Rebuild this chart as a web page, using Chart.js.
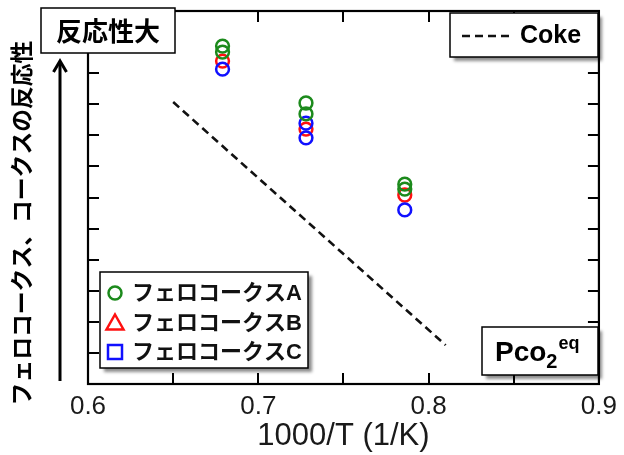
<!DOCTYPE html>
<html>
<head>
<meta charset="utf-8">
<script src="https://cdn.jsdelivr.net/npm/chart.js@4/dist/chart.umd.min.js"></script>
<style>
  html, body { margin: 0; padding: 0; background: #fff; }
  #wrap { width: 624px; height: 455px; position: relative; }
</style>
</head>
<body>
<div id="wrap"><canvas id="c" width="624" height="455"></canvas></div>
<script>
// 1000/T axis ticks
const xTickValues = [0.6, 0.7, 0.8, 0.9];
const xMinorTicks = [0.65, 0.75, 0.85];
// reactivity axis (arbitrary units, unlabelled ticks)
const yTickValues = [0, 1, 2, 3, 4, 5, 6, 7, 8, 9, 10, 11, 12];

// Ferro-coke A
const ferroA_x = [0.679, 0.679, 0.728, 0.728, 0.786, 0.786];
const ferroA_y = [10.87, 10.68, 9.04, 8.69, 6.43, 6.27];
// Ferro-coke B
const ferroB_x = [0.679, 0.728, 0.786];
const ferroB_y = [10.39, 8.20, 6.08];
// Ferro-coke C
const ferroC_x = [0.679, 0.728, 0.728, 0.786];
const ferroC_y = [10.13, 8.39, 7.92, 5.60];
// Coke (equilibrium CO2 pressure line)
const coke_x = [0.65, 0.81];
const coke_y = [9.07, 1.25];

const seriesLabels = ['フェロコークスA', 'フェロコークスB', 'フェロコークスC'];
const cokeLabel = 'Coke';

const GREEN = '#1c8a1c', RED = '#ff1010', BLUE = '#1010ff';
const LATIN = '"Liberation Sans", Arial, sans-serif';
const JP = '"Liberation Sans", "Noto Sans CJK JP", sans-serif';

const pts = (xs, ys) => xs.map((x, i) => ({ x, y: ys[i] }));

function markerSet(label, xs, ys, color, order, legendMarker) {
  return {
    label, data: pts(xs, ys), order, legendMarker,
    showLine: false, pointStyle: 'circle', pointRadius: 6.4,
    pointBorderWidth: 2.5, pointBorderColor: color,
    pointBackgroundColor: 'rgba(0,0,0,0)', borderColor: color
  };
}

function line(ctx, x1, y1, x2, y2) {
  ctx.beginPath(); ctx.moveTo(x1, y1); ctx.lineTo(x2, y2); ctx.stroke();
}

function shadowBox(ctx, x, y, w, h, shadow) {
  ctx.save();
  if (shadow) {
    ctx.shadowColor = 'rgba(0,0,0,0.45)';
    ctx.shadowOffsetX = 4; ctx.shadowOffsetY = 4; ctx.shadowBlur = 3;
  }
  ctx.fillStyle = '#fff';
  ctx.fillRect(x, y, w, h);
  ctx.restore();
  ctx.save();
  ctx.lineWidth = 1.5; ctx.strokeStyle = '#000';
  ctx.strokeRect(x, y, w, h);
  ctx.restore();
}

// frame, inward ticks on all four sides, annotation boxes and axis caption
const decorations = {
  id: 'decorations',
  afterDraw(chart) {
    const ctx = chart.ctx;
    const { left, right, top, bottom } = chart.chartArea;
    const xs = chart.scales.x, ys = chart.scales.y;
    ctx.save();
    ctx.strokeStyle = '#000';
    ctx.lineWidth = 2.2;
    ctx.strokeRect(left, top, right - left, bottom - top);
    ctx.lineWidth = 2;
    const len = 11;
    [...xTickValues, ...xMinorTicks].forEach(v => {
      const px = Math.round(xs.getPixelForValue(v));
      line(ctx, px, bottom, px, bottom - len);
      line(ctx, px, top, px, top + len);
    });
    yTickValues.forEach(v => {
      const py = Math.round(ys.getPixelForValue(v));
      line(ctx, left, py, left + len, py);
      line(ctx, right, py, right - len, py);
    });

    // "high reactivity" tag
    shadowBox(ctx, 41, 8, 134, 45, false);
    ctx.fillStyle = '#000';
    ctx.font = 'bold 26px "Noto Sans CJK JP", sans-serif';
    ctx.textAlign = 'center'; ctx.textBaseline = 'middle';
    ctx.fillText('反応性大', 108, 31);

    // Coke legend
    const coke = chart.data.datasets.find(d => d.label === cokeLabel);
    shadowBox(ctx, 450, 13, 148, 44, true);
    ctx.save();
    ctx.strokeStyle = coke.borderColor; ctx.lineWidth = 2.6;
    ctx.setLineDash(coke.borderDash);
    line(ctx, 462, 36, 512, 36);
    ctx.restore();
    ctx.fillStyle = '#000';
    ctx.font = 'bold 25px ' + LATIN;
    ctx.textAlign = 'left'; ctx.textBaseline = 'middle';
    ctx.fillText(cokeLabel, 520, 36);

    // ferro-coke legend
    shadowBox(ctx, 100, 272, 208, 96, true);
    const rows = chart.data.datasets.filter(d => d.legendMarker);
    rows.forEach((d, i) => {
      const cy = 293 + i * 29.5, cx = 115;
      ctx.save();
      ctx.strokeStyle = d.pointBorderColor; ctx.lineWidth = 2.5;
      ctx.beginPath();
      if (d.legendMarker === 'circle') {
        ctx.arc(cx, cy, 6.5, 0, Math.PI * 2);
      } else if (d.legendMarker === 'triangle') {
        ctx.moveTo(cx, cy - 8); ctx.lineTo(cx + 8.5, cy + 7); ctx.lineTo(cx - 8.5, cy + 7); ctx.closePath();
      } else {
        ctx.rect(cx - 7, cy - 7, 14, 14);
      }
      ctx.stroke();
      ctx.restore();
      ctx.fillStyle = '#111';
      ctx.font = 'bold 22px ' + JP;
      ctx.textAlign = 'left'; ctx.textBaseline = 'middle';
      ctx.fillText(d.label, 132, cy + 1);
    });

    // Pco2eq tag
    shadowBox(ctx, 482, 327, 116, 48, true);
    ctx.fillStyle = '#000';
    ctx.textAlign = 'left'; ctx.textBaseline = 'alphabetic';
    ctx.font = 'bold 28px ' + LATIN;
    ctx.fillText('Pco', 495, 361);
    let w = ctx.measureText('Pco').width;
    ctx.font = 'bold 20px ' + LATIN;
    ctx.fillText('2', 495 + w, 368);
    const w2 = ctx.measureText('2').width;
    ctx.font = 'bold 18px ' + LATIN;
    ctx.fillText('eq', 495 + w + w2 + 1, 349);

    // vertical caption with arrow
    ctx.save();
    ctx.translate(21, 223);
    ctx.rotate(-Math.PI / 2);
    ctx.font = 'bold 22.8px "Noto Sans CJK JP", sans-serif';
    ctx.textAlign = 'center'; ctx.textBaseline = 'middle';
    ctx.fillStyle = '#000';
    ctx.fillText('フェロコークス、コークスの反応性', 0, 0);
    ctx.restore();
    ctx.lineWidth = 3; ctx.strokeStyle = '#000';
    line(ctx, 60, 381, 60, 62);
    ctx.beginPath();
    ctx.moveTo(53.5, 72); ctx.lineTo(60, 61); ctx.lineTo(66.5, 72);
    ctx.stroke();
    ctx.restore();
  }
};

new Chart(document.getElementById('c'), {
  type: 'scatter',
  data: {
    datasets: [
      markerSet(seriesLabels[0], ferroA_x, ferroA_y, GREEN, 0, 'circle'),
      markerSet(seriesLabels[1], ferroB_x, ferroB_y, RED, 2, 'triangle'),
      markerSet(seriesLabels[2], ferroC_x, ferroC_y, BLUE, 1, 'rect'),
      {
        label: cokeLabel, data: pts(coke_x, coke_y), order: 3,
        showLine: true, borderColor: '#111', borderWidth: 2.6,
        borderDash: [8, 5], pointRadius: 0, fill: false
      }
    ]
  },
  options: {
    responsive: false,
    animation: false,
    devicePixelRatio: 1,
    layout: { padding: { top: 11, right: 20, bottom: 0, left: 0 } },
    plugins: { legend: { display: false }, tooltip: { enabled: false } },
    scales: {
      x: {
        type: 'linear', min: 0.6, max: 0.9,
        afterBuildTicks: s => { s.ticks = xTickValues.map(v => ({ value: v })); },
        afterFit: s => { s.height = 71; },
        grid: { display: false, drawTicks: false },
        border: { display: false },
        ticks: {
          padding: 7, autoSkip: false, maxRotation: 0, color: '#1a1a1a',
          font: { family: LATIN, size: 26 },
          callback: v => Number(v).toFixed(1)
        },
        title: {
          display: true, text: '1000/T (1/K)', color: '#1a1a1a',
          font: { family: LATIN, size: 31 }, padding: { top: 0, bottom: 0 }
        }
      },
      y: {
        type: 'linear', min: 0, max: 12,
        afterFit: s => { s.width = 88; },
        grid: { display: false, drawTicks: false },
        border: { display: false },
        ticks: { display: false }
      }
    }
  },
  plugins: [decorations]
});
</script>
</body>
</html>
